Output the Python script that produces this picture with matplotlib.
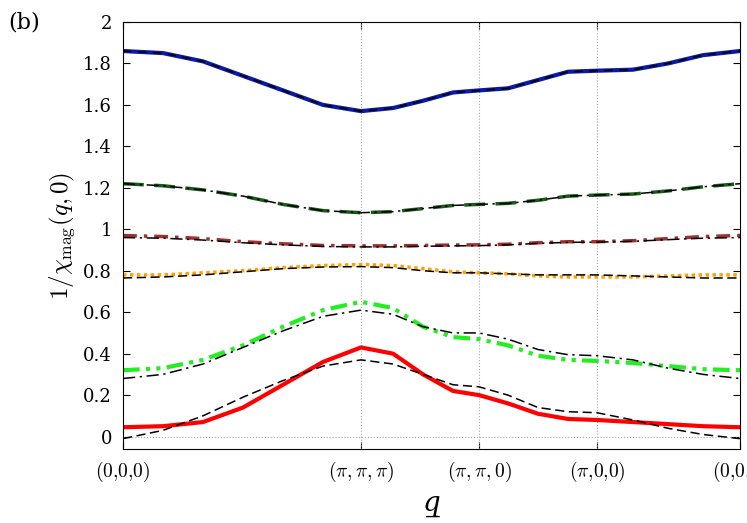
import matplotlib
matplotlib.use("Agg")
import matplotlib.pyplot as plt
plt.rcParams['mathtext.fontset'] = 'cm'
plt.rcParams['font.family'] = 'serif'
plt.rcParams['font.serif'] = ['DejaVu Serif']

xs = [0, 40, 80, 120, 160, 200, 238, 270, 300, 330, 356, 385, 415, 445, 474, 510, 545, 580, 617]
tick_pos = [0, 238, 356, 474, 617]
tick_labels = [r'$(0{,}0{,}0)$', r'$(\pi,\pi,\pi)$', r'$(\pi,\pi,0)$', r'$(\pi{,}0{,}0)$', r'$(0{,}0{,}0)$']

red = [0.045,0.05,0.07,0.14,0.25,0.36,0.43,0.40,0.30,0.22,0.20,0.16,0.11,0.085,0.08,0.07,0.06,0.05,0.045]
red_ref = [-0.01,0.03,0.10,0.19,0.27,0.34,0.37,0.35,0.30,0.25,0.24,0.20,0.14,0.12,0.115,0.08,0.04,0.01,-0.01]
green = [0.32,0.33,0.37,0.44,0.53,0.61,0.65,0.62,0.53,0.48,0.47,0.44,0.39,0.37,0.365,0.355,0.34,0.325,0.32]
green_ref = [0.28,0.30,0.35,0.43,0.51,0.58,0.61,0.59,0.53,0.50,0.50,0.47,0.42,0.395,0.39,0.37,0.33,0.30,0.28]
orange = [0.78,0.78,0.79,0.80,0.815,0.825,0.83,0.825,0.81,0.795,0.79,0.785,0.775,0.77,0.77,0.77,0.775,0.78,0.78]
orange_ref = [0.765,0.77,0.78,0.795,0.81,0.818,0.82,0.815,0.80,0.79,0.79,0.785,0.78,0.78,0.78,0.775,0.77,0.765,0.765]
brown = [0.97,0.965,0.955,0.94,0.93,0.922,0.92,0.92,0.922,0.924,0.925,0.928,0.935,0.94,0.94,0.945,0.955,0.965,0.97]
brown_ref = [0.96,0.957,0.948,0.935,0.925,0.917,0.915,0.915,0.918,0.92,0.921,0.925,0.932,0.937,0.938,0.942,0.95,0.957,0.96]
dgreen = [1.22,1.21,1.19,1.16,1.12,1.09,1.08,1.085,1.10,1.115,1.12,1.125,1.14,1.16,1.165,1.17,1.185,1.205,1.22]
blue = [1.86,1.85,1.81,1.74,1.67,1.60,1.57,1.585,1.62,1.66,1.67,1.68,1.72,1.76,1.765,1.77,1.80,1.84,1.86]

fig = plt.figure(figsize=(7.47, 5.23), dpi=100)
ax = fig.add_axes([123/747, 1-449/523, 617/747, 427/523])

for x in tick_pos[1:-1]:
    ax.axvline(x, color='#aaaaaa', ls=':', lw=0.8)
ax.axhline(0, color='#aaaaaa', ls=':', lw=0.8)

ax.plot(xs, blue, color='#0a1aa8', lw=3)
ax.plot(xs, blue, color='black', lw=1.2, ls=(0, (5, 4)))
ax.plot(xs, dgreen, color='#1a5a1a', lw=2.5, ls=(0, (6, 3)))
ax.plot(xs, dgreen, color='black', lw=1.1, ls=(0, (8, 3, 1.5, 3)))
ax.plot(xs, brown, color='#a03030', lw=2.5, ls=(0, (4, 2, 1, 2)))
ax.plot(xs, brown_ref, color='black', lw=1.1, ls=(0, (8, 3, 1.5, 3)))
ax.plot(xs, orange, color='#ffa000', lw=2.5, ls=(0, (1, 1)))
ax.plot(xs, orange_ref, color='black', lw=1.1, ls=(0, (6, 3)))
ax.plot(xs, green, color='#22ee22', lw=3, ls=(0, (4, 1.5, 1, 1.5, 1, 1.5)))
ax.plot(xs, green_ref, color='black', lw=1.1, ls=(0, (8, 3, 1.5, 3)))
ax.plot(xs, red, color='#ff0000', lw=3)
ax.plot(xs, red_ref, color='black', lw=1.1, ls=(0, (6, 3)))

ax.set_xlim(0, 617)
ax.set_ylim(-0.06, 2.0)
ax.set_xticks(tick_pos)
ax.set_xticklabels(tick_labels, fontsize=14)
ax.set_yticks([0, 0.2, 0.4, 0.6, 0.8, 1, 1.2, 1.4, 1.6, 1.8, 2])
ax.set_yticklabels(['0', '0.2', '0.4', '0.6', '0.8', '1', '1.2', '1.4', '1.6', '1.8', '2'], fontsize=13)
ax.tick_params(direction='in', top=True, right=True, length=5, pad=8)
ax.set_xlabel('q\u0332', fontsize=20, fontstyle='italic')
ax.set_ylabel(r'$1/\chi_{\rm mag}(q,0)$', fontsize=18)
fig.text(8/747, 1-22/523, '(b)', fontsize=16, va='center')
fig.savefig('out.png', dpi=100)
